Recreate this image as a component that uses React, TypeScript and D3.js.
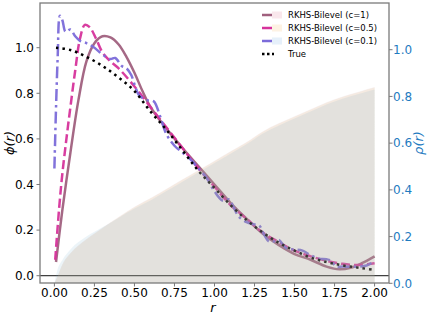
import React, { useRef, useEffect } from 'react';
import * as d3 from 'd3';

// values
const trueR = [0.01, 0.1, 0.2, 0.3, 0.4, 0.5, 0.6, 0.7, 0.8, 0.9, 1.0, 1.1, 1.2, 1.3, 1.4, 1.5, 1.6, 1.7, 1.8, 1.9, 2.0];
const trueVals = [1.0, 0.99, 0.96, 0.92, 0.87, 0.81, 0.72, 0.64, 0.55, 0.46, 0.385, 0.31, 0.245, 0.19, 0.145, 0.11, 0.08, 0.06, 0.045, 0.035, 0.025];

const c1R = [0.01, 0.05, 0.1, 0.15, 0.2, 0.25, 0.3, 0.35, 0.4, 0.45, 0.5, 0.55, 0.6, 0.7, 0.8, 0.9, 1.0, 1.1, 1.2, 1.3, 1.4, 1.5, 1.6, 1.7, 1.78, 1.85, 1.92, 2.0];
const c1Vals = [0.06, 0.29, 0.54, 0.77, 0.94, 1.02, 1.05, 1.045, 1.015, 0.96, 0.89, 0.81, 0.74, 0.645, 0.56, 0.48, 0.40, 0.32, 0.25, 0.185, 0.135, 0.095, 0.07, 0.04, 0.028, 0.035, 0.055, 0.085];

const c05R = [0.005, 0.03, 0.05, 0.075, 0.1, 0.13, 0.16, 0.19, 0.22, 0.26, 0.3, 0.35, 0.4, 0.5, 0.6, 0.7, 0.8, 0.9, 1.0, 1.1, 1.2, 1.3, 1.4, 1.5, 1.6, 1.7, 1.8, 1.9, 2.0];
const c05Vals = [0.07, 0.3, 0.45, 0.6, 0.74, 0.9, 1.04, 1.1, 1.09, 1.04, 0.98, 0.94, 0.91, 0.83, 0.74, 0.65, 0.56, 0.47, 0.39, 0.31, 0.25, 0.19, 0.148, 0.11, 0.085, 0.065, 0.052, 0.047, 0.055];

const c01R = [0.0, 0.02, 0.035, 0.05, 0.07, 0.1, 0.13, 0.16, 0.2, 0.25, 0.3, 0.35, 0.38, 0.42, 0.45, 0.48, 0.5, 0.53, 0.58, 0.62, 0.66, 0.7, 0.75, 0.8, 0.85, 0.9, 0.95, 1.0, 1.05, 1.09, 1.12, 1.15, 1.2, 1.25, 1.28, 1.31, 1.34, 1.37, 1.4, 1.45, 1.5, 1.55, 1.6, 1.65, 1.7, 1.73, 1.76, 1.8, 1.9, 1.95, 2.0];
const c01Vals = [0.47, 0.95, 1.14, 1.12, 1.07, 1.08, 1.05, 1.03, 1.02, 1.0, 0.97, 0.95, 0.955, 0.92, 0.91, 0.88, 0.84, 0.79, 0.77, 0.765, 0.70, 0.62, 0.57, 0.54, 0.51, 0.47, 0.43, 0.37, 0.33, 0.335, 0.30, 0.26, 0.235, 0.225, 0.22, 0.18, 0.15, 0.15, 0.157, 0.12, 0.115, 0.11, 0.09, 0.075, 0.072, 0.065, 0.04, 0.04, 0.04, 0.045, 0.065];

// densities rho(r), right axis
const densR = [0, 0.02, 0.05, 0.1, 0.2, 0.3, 0.4, 0.5, 0.6, 0.7, 0.8, 0.9, 1.0, 1.1, 1.2, 1.3, 1.4, 1.5, 1.6, 1.7, 1.8, 1.9, 2.0];
const densC1 = [0, 0.032, 0.082, 0.13, 0.19, 0.238, 0.284, 0.328, 0.365, 0.405, 0.445, 0.485, 0.525, 0.565, 0.605, 0.65, 0.685, 0.715, 0.745, 0.775, 0.8, 0.82, 0.84];
const densC05 = [0, 0.03, 0.08, 0.128, 0.188, 0.236, 0.282, 0.326, 0.363, 0.403, 0.443, 0.483, 0.523, 0.563, 0.603, 0.648, 0.683, 0.713, 0.743, 0.773, 0.798, 0.818, 0.838];
const densC01 = [0, 0.06, 0.1, 0.145, 0.2, 0.24, 0.28, 0.32, 0.355, 0.395, 0.435, 0.475, 0.515, 0.555, 0.595, 0.64, 0.675, 0.705, 0.735, 0.765, 0.79, 0.81, 0.83];

const xTicks = [0, 0.25, 0.5, 0.75, 1.0, 1.25, 1.5, 1.75, 2.0];
const yLeftTicks = [0.0, 0.2, 0.4, 0.6, 0.8, 1.0];
const yRightTicks = [0.0, 0.2, 0.4, 0.6, 0.8, 1.0];
const legendLabels = ['RKHS-Bilevel (c=1)', 'RKHS-Bilevel (c=0.5)', 'RKHS-Bilevel (c=0.1)', 'True'];

const W = 429;
const H = 317;
const box = { left: 40, right: 389, top: 3, bottom: 283 };
const FONT = 'DejaVu Sans, sans-serif';
const spineColor = '#7a7a7a';
const rightColor = '#1f7bbf';

const lineColors = ['#a0607e', '#d6339b', '#7b6bd9'];
const fillColors = ['#c8969e', '#dcb464', '#64aac8'];
const patchColors = ['#f9e7ec', '#fdf2e3', '#e6f0fa'];

export default function App() {
  const ref = useRef<SVGSVGElement>(null);

  useEffect(() => {
    const svg = d3.select(ref.current);
    svg.selectAll('*').remove();

    const x = d3.scaleLinear().domain([-0.09, 2.09]).range([box.left, box.right]);
    const yL = d3.scaleLinear().domain([-0.032, 1.196]).range([box.bottom, box.top]);
    const yR = d3.scaleLinear().domain([0, 1.2]).range([box.bottom + 0.3, box.top]);

    svg.append('rect').attr('width', W).attr('height', H).attr('fill', 'white');

    const clip = svg.append('clipPath').attr('id', 'plotclip');
    clip.append('rect')
      .attr('x', box.left).attr('y', box.top)
      .attr('width', box.right - box.left).attr('height', box.bottom - box.top);

    const plot = svg.append('g').attr('clip-path', 'url(#plotclip)');

    // zero line
    plot.append('line')
      .attr('x1', box.left).attr('x2', box.right)
      .attr('y1', yL(0)).attr('y2', yL(0))
      .attr('stroke', '#111').attr('stroke-width', 1);

    const line = d3.line<[number, number]>()
      .x(d => x(d[0]))
      .y(d => yL(d[1]))
      .curve(d3.curveCatmullRom.alpha(0.5));

    const series = [
      { r: c1R, v: c1Vals, color: lineColors[0], dash: null },
      { r: c05R, v: c05Vals, color: lineColors[1], dash: '9,4' },
      { r: c01R, v: c01Vals, color: lineColors[2], dash: '12,4,2.5,4' },
    ];
    series.forEach(s => {
      const pts = s.r.map((r, i) => [r, s.v[i]] as [number, number]);
      plot.append('path')
        .attr('d', line(pts))
        .attr('fill', 'none')
        .attr('stroke', s.color)
        .attr('stroke-width', 2.5)
        .attr('stroke-dasharray', s.dash)
        .attr('opacity', 0.95);
    });
    plot.append('path')
      .attr('d', line(trueR.map((r, i) => [r, trueVals[i]] as [number, number])))
      .attr('fill', 'none')
      .attr('stroke', 'black')
      .attr('stroke-width', 2.5)
      .attr('stroke-dasharray', '2.5,4');

    // density fills on the twin axis, drawn over the lines
    const area = d3.area<[number, number]>()
      .x(d => x(d[0]))
      .y0(yR(0))
      .y1(d => yR(d[1]))
      .curve(d3.curveMonotoneX);
    [densC1, densC05, densC01].forEach((dens, k) => {
      plot.append('path')
        .attr('d', area(densR.map((r, i) => [r, dens[i]] as [number, number])))
        .attr('fill', fillColors[k])
        .attr('fill-opacity', 0.125);
    });

    // spines
    svg.append('rect')
      .attr('x', box.left).attr('y', box.top)
      .attr('width', box.right - box.left).attr('height', box.bottom - box.top)
      .attr('fill', 'none').attr('stroke', spineColor).attr('stroke-width', 1.3);

    // x axis
    const gx = svg.append('g').attr('font-family', FONT).attr('font-size', 12);
    xTicks.forEach(t => {
      gx.append('line')
        .attr('x1', x(t)).attr('x2', x(t))
        .attr('y1', box.bottom).attr('y2', box.bottom + 3.5)
        .attr('stroke', spineColor);
      gx.append('text')
        .attr('x', x(t)).attr('y', box.bottom + 13.5)
        .attr('text-anchor', 'middle')
        .text(t.toFixed(2));
    });

    // left y axis
    const gl = svg.append('g').attr('font-family', FONT).attr('font-size', 12);
    yLeftTicks.forEach(t => {
      gl.append('line')
        .attr('x1', box.left - 3.5).attr('x2', box.left)
        .attr('y1', yL(t)).attr('y2', yL(t))
        .attr('stroke', spineColor);
      gl.append('text')
        .attr('x', box.left - 6).attr('y', yL(t))
        .attr('dy', '0.36em')
        .attr('text-anchor', 'end')
        .text(t.toFixed(1));
    });

    // right y axis
    const gr = svg.append('g').attr('font-family', FONT).attr('font-size', 12).attr('fill', rightColor);
    yRightTicks.forEach(t => {
      gr.append('line')
        .attr('x1', box.right).attr('x2', box.right + 3.5)
        .attr('y1', yR(t)).attr('y2', yR(t))
        .attr('stroke', spineColor);
      gr.append('text')
        .attr('x', box.right + 4).attr('y', yR(t))
        .attr('dy', '0.36em')
        .text(t.toFixed(1));
    });

    // axis labels
    svg.append('text')
      .attr('x', 213).attr('y', 312)
      .attr('text-anchor', 'middle')
      .attr('font-family', FONT).attr('font-size', 13).attr('font-style', 'italic')
      .text('r');
    const midY = (box.top + box.bottom) / 2;
    svg.append('text')
      .attr('transform', `translate(14,${midY}) rotate(-90)`)
      .attr('text-anchor', 'middle')
      .attr('font-family', FONT).attr('font-size', 13).attr('font-style', 'italic')
      .text('ϕ(r)');
    svg.append('text')
      .attr('transform', `translate(423,${midY}) rotate(-90)`)
      .attr('text-anchor', 'middle')
      .attr('font-family', FONT).attr('font-size', 13).attr('font-style', 'italic')
      .attr('fill', rightColor)
      .text('ρ(r)');

    // legend
    const lg = svg.append('g').attr('font-family', FONT).attr('font-size', 8.5);
    legendLabels.forEach((label, i) => {
      const cy = 15 + i * 13;
      if (i < 3) {
        lg.append('rect')
          .attr('x', 272).attr('y', cy - 3.5).attr('width', 10).attr('height', 7)
          .attr('fill', patchColors[i]);
        lg.append('line')
          .attr('x1', 262).attr('x2', 272).attr('y1', cy).attr('y2', cy)
          .attr('stroke', lineColors[i]).attr('stroke-width', 2.5);
      } else {
        lg.append('line')
          .attr('x1', 262).attr('x2', 274).attr('y1', cy).attr('y2', cy)
          .attr('stroke', 'black').attr('stroke-width', 2.5)
          .attr('stroke-dasharray', '2.5,2.5');
      }
      lg.append('text')
        .attr('x', 288).attr('y', cy)
        .attr('dy', '0.35em')
        .text(label);
    });
  }, []);

  return (
    <svg ref={ref} width={W} height={H}
      style={{ position: 'absolute', left: 0, top: 0 }} />
  );
}
